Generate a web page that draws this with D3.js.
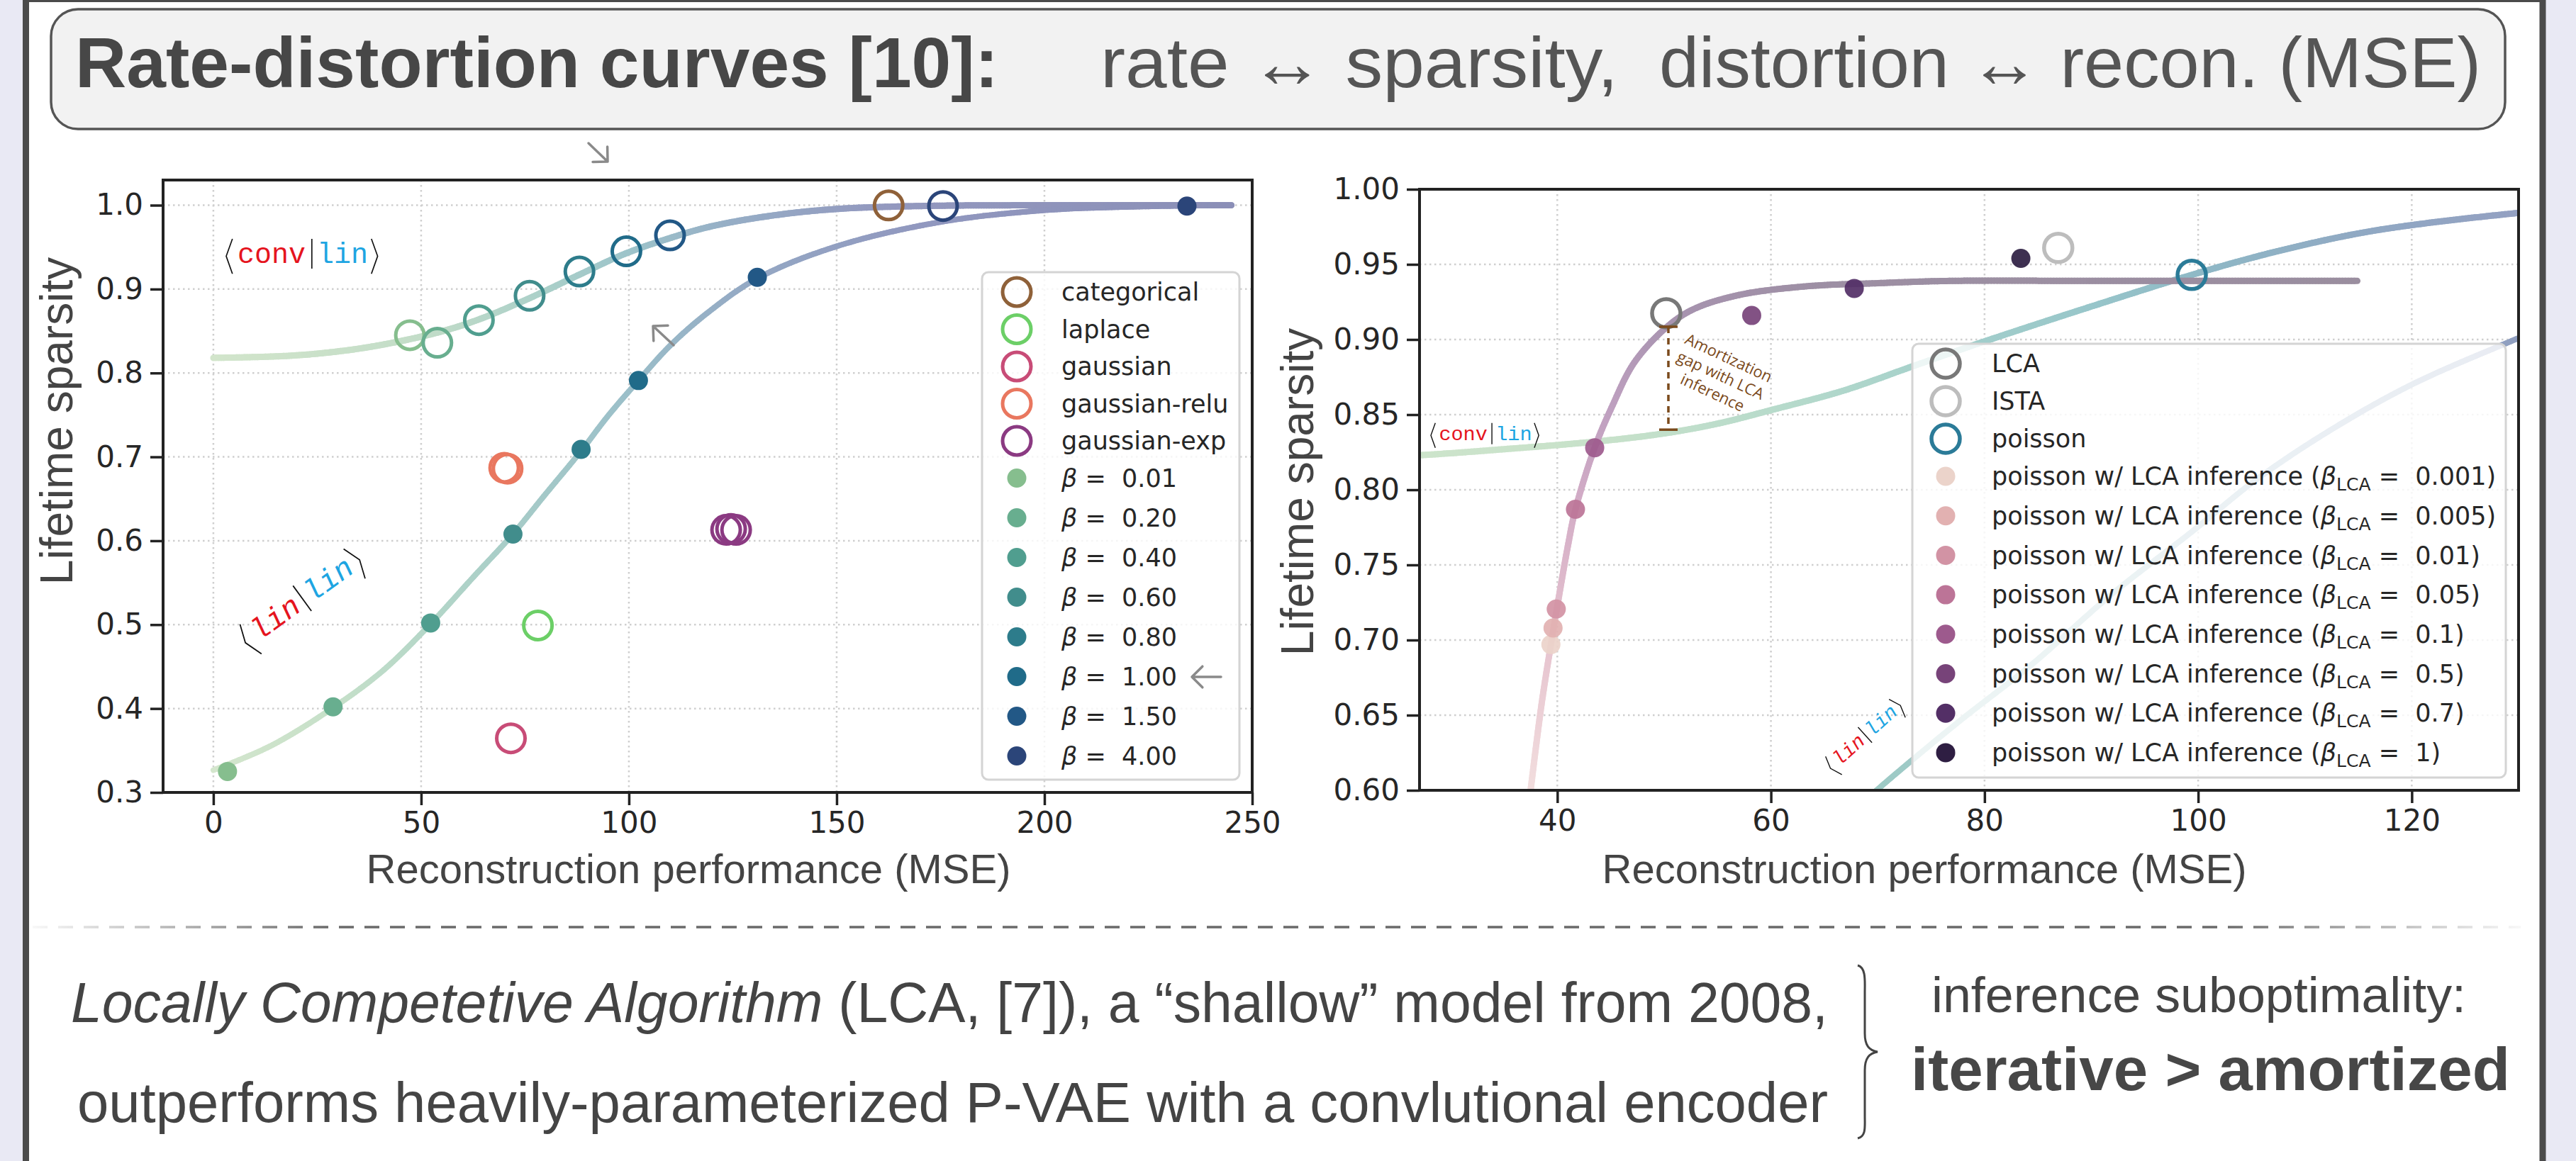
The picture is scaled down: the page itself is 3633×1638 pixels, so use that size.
<!DOCTYPE html>
<html>
<head>
<meta charset="utf-8">
<script src="https://cdn.jsdelivr.net/npm/d3@7"></script>
<style>
  body { margin: 0; background: #e9e9f4; }
  svg { display: block; }
</style>
</head>
<body>
<div id="chart"></div>
<script>
// ---------- data ----------
// left panel: P-VAE poisson, beta sweep
const betaLabels = ["0.01", "0.20", "0.40", "0.60", "0.80", "1.00", "1.50", "4.00"];
const betaColors = ["#86be8e", "#68ae8f", "#509e8f", "#418d8c", "#2d7c8b", "#206b89", "#225886", "#2b4579"];
const linLinMSE = [3.4, 28.8, 52.3, 72.1, 88.5, 102.3, 130.9, 234.3];
const linLinSparsity = [0.325, 0.402, 0.502, 0.608, 0.709, 0.791, 0.914, 0.999];
const convLinMSE = [47.3, 53.9, 63.9, 76.1, 88.1, 99.4, 109.9, 175.6];
const convLinSparsity = [0.845, 0.836, 0.863, 0.892, 0.921, 0.945, 0.964, 0.999];

// left panel: other latent distributions (open circles)
const distNames = ["categorical", "laplace", "gaussian", "gaussian-relu", "gaussian-exp"];
const distColors = ["#8f6139", "#6ccf67", "#c84c77", "#e9775f", "#8b3a82"];
const distMSE = [[162.5], [78.1], [71.6], [70.0, 70.8], [123.4, 124.6, 125.8]];
const distSparsity = [[0.9997], [0.499], [0.3645], [0.687, 0.686], [0.613, 0.614, 0.613]];

// left panel fitted curves
const convLinCurveL = [[0, 0.818], [20, 0.821], [35, 0.829], [47, 0.840], [56, 0.851], [64, 0.864], [76, 0.889],
  [88, 0.917], [99, 0.942], [110, 0.961], [120, 0.975], [135, 0.988], [150, 0.9955], [170, 0.999], [200, 1.0], [245, 1.0]];
const linLinCurveL = [[0, 0.3265], [14, 0.356], [28.8, 0.401], [41, 0.446], [52.3, 0.501], [62.8, 0.558], [72.1, 0.608],
  [80, 0.656], [88.5, 0.707], [95, 0.749], [102.3, 0.791], [110, 0.833], [119, 0.872], [131, 0.913], [150, 0.951],
  [175, 0.98], [200, 0.994], [220, 0.998], [245, 1.0]];

// right panel: reference models (open circles)
const refNames = ["LCA", "ISTA", "poisson"];
const refColors = ["#787878", "#bdbdbd", "#2b7b98"];
const refMSE = [50.2, 86.9, 99.4];
const refSparsity = [0.9175, 0.961, 0.943];

// right panel: poisson w/ LCA inference
const lcaBetaLabels = ["0.001", "0.005", "0.01", "0.05", "0.1", "0.5", "0.7", "1"];
const lcaColors = ["#ebd3ca", "#e2b1b1", "#d293a4", "#bc7497", "#9d5a8d", "#774379", "#532f66", "#2e1e42"];
const lcaMSE = [39.4, 39.6, 39.9, 41.7, 43.5, 58.2, 67.8, 83.4];
const lcaSparsity = [0.697, 0.708, 0.7206, 0.787, 0.828, 0.916, 0.934, 0.954];

// right panel curves
const lcaCurveR = [[37.5, 0.6], [38.5, 0.656], [39.4, 0.697], [40, 0.7226], [41, 0.763], [41.7, 0.787], [43.5, 0.828],
  [45.1, 0.855], [47.2, 0.8846], [50.2, 0.908], [52.7, 0.92], [57, 0.9296], [63.3, 0.9354], [70, 0.9375],
  [76.8, 0.939], [90, 0.939], [114.9, 0.939]];
const convLinCurveR = [[20, 0.821], [27.1, 0.823], [35, 0.827], [43.5, 0.832], [50, 0.8375], [55, 0.844], [60, 0.853],
  [66.8, 0.866], [73.2, 0.882], [79.9, 0.8985], [90, 0.922], [99.4, 0.943], [107, 0.958], [115, 0.9706],
  [122, 0.978], [131, 0.985]];
const linLinCurveR = [[69, 0.594], [69.9, 0.6], [73.2, 0.62], [78, 0.648], [84.3, 0.683], [92, 0.731], [99.4, 0.772],
  [105.3, 0.806], [112, 0.838], [120, 0.87], [130, 0.901], [133, 0.91]];

// amortization gap marker
const gapMSE = 50.4;
const gapRange = [0.840, 0.9085];

// ticks
const xTicksL = [0, 50, 100, 150, 200, 250];
const yTicksL = [0.3, 0.4, 0.5, 0.6, 0.7, 0.8, 0.9, 1.0];
const xTicksR = [40, 60, 80, 100, 120];
const yTicksR = [0.60, 0.65, 0.70, 0.75, 0.80, 0.85, 0.90, 0.95, 1.00];

// ---------- page ----------
const W = 3633, H = 1638;
const SANS = "'Liberation Sans', Arial, sans-serif";
const DJV = "'DejaVu Sans', sans-serif";
const MONO = "'Liberation Mono', 'Courier New', monospace";

const svg = d3.select("#chart").append("svg")
  .attr("width", W).attr("height", H)
  .style("font-family", DJV);

// slide frame
svg.append("rect")
  .attr("x", 36.5).attr("y", -1.5).attr("width", 3549.5).attr("height", H + 20)
  .attr("fill", "#fff").attr("stroke", "#4b4b4b").attr("stroke-width", 9);

// title box
svg.append("rect")
  .attr("x", 72).attr("y", 13).attr("width", 3461).attr("height", 169).attr("rx", 38)
  .attr("fill", "#f2f2f2").attr("stroke", "#555").attr("stroke-width", 3.5);

const titleParts = [
  {text: "Rate-distortion curves [10]:", x: 106, len: 1302, bold: true},
  {text: "rate \u2194 sparsity,", x: 1552, len: 730, bold: false},
  {text: "distortion \u2194 recon. (MSE)", x: 2340, len: 1159, bold: false}
];
svg.append("g").selectAll("text").data(titleParts).join("text")
  .attr("x", d => d.x).attr("y", 123)
  .attr("font-family", SANS).attr("font-size", 100)
  .attr("font-weight", d => d.bold ? "bold" : "normal")
  .attr("fill", d => d.bold ? "#474747" : "#555")
  .attr("textLength", d => d.len).attr("lengthAdjust", "spacingAndGlyphs")
  .text(d => d.text);

// ---------- scales ----------
const xL = d3.scaleLinear().domain([-12.1, 250]).range([230, 1766]);
const yL = d3.scaleLinear().domain([0.3, 1.03]).range([1118, 254]);
const xR = d3.scaleLinear().domain([27.1, 130]).range([2002, 3552]);
const yR = d3.scaleLinear().domain([0.6, 1.0]).range([1115, 267]);

function clipFor(id, xs, ys) {
  svg.append("clipPath").attr("id", id).append("rect")
    .attr("x", xs.range()[0]).attr("y", ys.range()[1])
    .attr("width", xs.range()[1] - xs.range()[0])
    .attr("height", ys.range()[0] - ys.range()[1]);
}
clipFor("clipL", xL, yL);
clipFor("clipR", xR, yR);

function grid(xs, ys, xt, yt) {
  const g = svg.append("g").attr("stroke", "#cfcfcf").attr("stroke-width", 2.5)
    .attr("stroke-dasharray", "2.5,4.5");
  const [x0, x1] = xs.range(), [y0, y1] = ys.range();
  g.selectAll(".gx").data(xt.filter(t => xs(t) > x0 + 3 && xs(t) < x1 - 3)).join("line")
    .attr("x1", d => xs(d)).attr("x2", d => xs(d)).attr("y1", y1).attr("y2", y0);
  g.selectAll(".gy").data(yt.filter(t => ys(t) < y0 - 3 && ys(t) > y1 + 3)).join("line")
    .attr("y1", d => ys(d)).attr("y2", d => ys(d)).attr("x1", x0).attr("x2", x1);
}
grid(xL, yL, xTicksL, yTicksL);
grid(xR, yR, xTicksR, yTicksR);

// thick curve whose colour changes along its length
function gradientCurve(clipId, pts, xs, ys, stops, width, byArc) {
  const g = svg.append("g").attr("clip-path", `url(#${clipId})`);
  const line = d3.line().x(d => xs(d[0])).y(d => ys(d[1])).curve(d3.curveCatmullRom.alpha(0.5));
  const tmp = g.append("path").attr("d", line(pts)).attr("fill", "none");
  const node = tmp.node(), len = node.getTotalLength(), n = 400;
  const samples = d3.range(n + 1).map(i => node.getPointAtLength(len * i / n));
  tmp.remove();
  const col = d3.scaleLinear().domain(stops.map(s => s[0])).range(stops.map(s => s[1])).clamp(true);
  g.selectAll("line").data(d3.pairs(samples)).join("line")
    .attr("x1", d => d[0].x).attr("y1", d => d[0].y)
    .attr("x2", d => d[1].x).attr("y2", d => d[1].y)
    .attr("stroke", (d, i) => col(byArc ? (i + 0.5) / n : xs.invert((d[0].x + d[1].x) / 2)))
    .attr("stroke-width", width).attr("stroke-linecap", "round");
}

// left curves
gradientCurve("clipL", convLinCurveL, xL, yL,
  [[0, "#d2e5cb"], [50, "#c3ddc8"], [80, "#abd0c9"], [100, "#9dc4ca"], [125, "#96aec6"], [160, "#9399bf"], [245, "#8c8fb7"]], 9, false);
gradientCurve("clipL", linLinCurveL, xL, yL,
  [[0, "#d4e6cd"], [30, "#c6e0c9"], [55, "#b2d5c8"], [75, "#a6cbc8"], [100, "#9bbfc9"], [130, "#94a8c4"], [170, "#9198bf"], [245, "#8b8fb7"]], 8, false);

// right curves
gradientCurve("clipR", linLinCurveR, xR, yR,
  [[69, "#9ecac5"], [85, "#a0c8c9"], [105, "#98b6c8"], [130, "#909fc0"]], 8, false);
gradientCurve("clipR", convLinCurveR, xR, yR,
  [[27, "#cde4cb"], [45, "#c7e1ca"], [60, "#b8dbcb"], [75, "#a6d1cb"], [90, "#98c6ca"], [100, "#8fb9c6"], [115, "#90a9c3"], [131, "#94a0c2"]], 9, false);
gradientCurve("clipR", lcaCurveR, xR, yR,
  [[0, "#f2dede"], [0.13, "#e6c3cf"], [0.25, "#d2acc6"], [0.33, "#bfa0c0"], [0.42, "#a894b0"], [0.55, "#9d8fa4"], [1, "#9a8e9f"]], 9, true);

// ---------- markers ----------
const RING = 20, RING_W = 5, DOT = 13.5;

// left: filled dots on lin|lin
svg.append("g").selectAll("circle").data(linLinMSE).join("circle")
  .attr("cx", d => xL(d)).attr("cy", (d, i) => yL(linLinSparsity[i]))
  .attr("r", DOT).attr("fill", (d, i) => betaColors[i]);

// left: open circles on conv|lin
svg.append("g").selectAll("circle").data(convLinMSE).join("circle")
  .attr("cx", d => xL(d)).attr("cy", (d, i) => yL(convLinSparsity[i]))
  .attr("r", RING).attr("fill", "none").attr("stroke-width", RING_W)
  .attr("stroke", (d, i) => betaColors[i]);

// left: other distributions
const distPts = distNames.flatMap((name, k) =>
  distMSE[k].map((m, j) => ({m, s: distSparsity[k][j], c: distColors[k]})));
svg.append("g").selectAll("circle").data(distPts).join("circle")
  .attr("cx", d => xL(d.m)).attr("cy", d => yL(d.s))
  .attr("r", RING).attr("fill", "none").attr("stroke-width", RING_W)
  .attr("stroke", d => d.c);

// right: LCA-inference dots
svg.append("g").selectAll("circle").data(lcaMSE).join("circle")
  .attr("cx", d => xR(d)).attr("cy", (d, i) => yR(lcaSparsity[i]))
  .attr("r", DOT).attr("fill", (d, i) => lcaColors[i]).attr("fill-opacity", 0.92);

// right: reference models
svg.append("g").selectAll("circle").data(refMSE).join("circle")
  .attr("cx", d => xR(d)).attr("cy", (d, i) => yR(refSparsity[i]))
  .attr("r", RING).attr("fill", "none").attr("stroke-width", 5.5)
  .attr("stroke", (d, i) => refColors[i]);

// ---------- axes ----------
function axes(xs, ys, xt, yt, yfmt) {
  const [x0, x1] = xs.range(), [y0, y1] = ys.range();
  const gx = svg.append("g").attr("transform", `translate(0,${y0})`)
    .call(d3.axisBottom(xs).tickValues(xt).tickSize(18).tickPadding(9).tickFormat(d3.format("d")));
  const gy = svg.append("g").attr("transform", `translate(${x0},0)`)
    .call(d3.axisLeft(ys).tickValues(yt).tickSize(18).tickPadding(10).tickFormat(d3.format(yfmt)));
  [gx, gy].forEach(g => {
    g.select(".domain").remove();
    g.selectAll(".tick line").attr("stroke", "#222").attr("stroke-width", 3.5);
    g.selectAll(".tick text").attr("font-family", DJV).attr("font-size", 42).attr("fill", "#262626");
  });
  svg.append("rect").attr("x", x0).attr("y", y1).attr("width", x1 - x0).attr("height", y0 - y1)
    .attr("fill", "none").attr("stroke", "#222").attr("stroke-width", 4);
}
axes(xL, yL, xTicksL, yTicksL, ".1f");
axes(xR, yR, xTicksR, yTicksR, ".2f");

// axis titles
const axisTitles = [
  {t: "Reconstruction performance (MSE)", x: 971, y: 1246, rot: 0},
  {t: "Reconstruction performance (MSE)", x: 2714, y: 1246, rot: 0},
  {t: "Lifetime sparsity", x: 102, y: 594, rot: -90},
  {t: "Lifetime sparsity", x: 1852, y: 694, rot: -90}
];
svg.append("g").selectAll("text").data(axisTitles).join("text")
  .attr("transform", d => `translate(${d.x},${d.y}) rotate(${d.rot})`)
  .attr("text-anchor", "middle").attr("font-family", SANS)
  .attr("font-size", d => d.rot ? 64 : 58).attr("fill", "#444")
  .text(d => d.t);

// ---------- legends ----------
function legendFrame(x, y, w, h) {
  svg.append("rect").attr("x", x).attr("y", y).attr("width", w).attr("height", h).attr("rx", 9)
    .attr("fill", "#fff").attr("fill-opacity", 0.8).attr("stroke", "#d4d4d4").attr("stroke-width", 3);
}

// left legend
legendFrame(1385, 384, 363, 716);
const legL = [];
{
  let y = 412;
  distNames.forEach((n, i) => { legL.push({open: true, c: distColors[i], label: n, y}); y += 52.5; });
  betaLabels.forEach((b, i) => { legL.push({open: false, c: betaColors[i], beta: b, y}); y += 56; });
}
const gl = svg.append("g");
gl.selectAll("circle").data(legL).join("circle")
  .attr("cx", 1434).attr("cy", d => d.y)
  .attr("r", d => d.open ? RING : DOT)
  .attr("fill", d => d.open ? "none" : d.c)
  .attr("stroke", d => d.open ? d.c : "none").attr("stroke-width", RING_W);
gl.selectAll("text").data(legL).join("text")
  .attr("x", 1497).attr("y", d => d.y).attr("dy", "0.35em")
  .attr("font-size", 35).attr("fill", "#262626").style("white-space", "pre")
  .each(function(d) {
    const t = d3.select(this);
    if (d.open) { t.text(d.label); return; }
    t.append("tspan").attr("font-style", "italic").text("\u03b2");
    t.append("tspan").text(" =  " + d.beta);
  });

// right legend
legendFrame(2697, 485, 837, 612);
const legR = [];
{
  let y = 513;
  refNames.forEach((n, i) => { legR.push({open: true, c: refColors[i], label: n, y}); y += 53; });
  lcaBetaLabels.forEach((b, i) => { legR.push({open: false, c: lcaColors[i], beta: b, y}); y += 55.7; });
}
const gr = svg.append("g");
gr.selectAll("circle").data(legR).join("circle")
  .attr("cx", 2744).attr("cy", d => d.y)
  .attr("r", d => d.open ? RING : DOT)
  .attr("fill", d => d.open ? "none" : d.c)
  .attr("stroke", d => d.open ? d.c : "none").attr("stroke-width", 5.5);
gr.selectAll("text").data(legR).join("text")
  .attr("x", 2809).attr("y", d => d.y).attr("dy", "0.35em")
  .attr("font-size", 35).attr("fill", "#262626").style("white-space", "pre")
  .each(function(d) {
    const t = d3.select(this);
    if (d.open) { t.text(d.label); return; }
    t.append("tspan").text("poisson w/ LCA inference (");
    t.append("tspan").attr("font-style", "italic").text("\u03b2");
    t.append("tspan").attr("font-size", 25).attr("dy", 8).text("LCA");
    t.append("tspan").attr("dy", -8).text(" =  " + d.beta + ")");
  });

// ---------- annotations ----------
function braket(x, y, angle, f, first, second, italic) {
  const a = svg.append("g").attr("transform", `translate(${x},${y}) rotate(${angle})`);
  const cw = 0.6 * f;
  const sw = Math.max(1.4, f / 24);
  a.append("path").attr("d", `M${0.22 * f},${-0.85 * f}L0,${-0.24 * f}L${0.22 * f},${0.38 * f}`)
    .attr("fill", "none").attr("stroke", "#111").attr("stroke-width", sw);
  let cx = 0.4 * f;
  a.append("text").attr("x", cx).attr("font-family", MONO).attr("font-size", f)
    .attr("font-style", italic ? "italic" : "normal").attr("fill", "#e5141e").text(first);
  cx += first.length * cw + 0.22 * f;
  a.append("path").attr("d", `M${cx},${-0.85 * f}L${cx},${0.2 * f}`)
    .attr("stroke", "#111").attr("stroke-width", sw);
  cx += 0.18 * f;
  a.append("text").attr("x", cx).attr("font-family", MONO).attr("font-size", f)
    .attr("font-style", italic ? "italic" : "normal").attr("fill", "#1ea5e2").text(second);
  cx += second.length * cw + 0.12 * f;
  a.append("path").attr("d", `M${cx},${-0.85 * f}L${cx + 0.22 * f},${-0.24 * f}L${cx},${0.38 * f}`)
    .attr("fill", "none").attr("stroke", "#111").attr("stroke-width", sw);
}
braket(319, 371, 0, 40, "conv", "lin", false);
braket(352, 915, -36, 42, "lin", "lin", true);
braket(2018, 621, 0, 28.5, "conv", "lin", false);
braket(2586, 1089, -42, 28, "lin", "lin", true);

// gray pointer arrows (tail -> head, head drawn as two short arms)
const arrows = [
  {x1: 830, y1: 202, x2: 857, y2: 228},
  {x1: 950, y1: 487, x2: 921, y2: 460},
  {x1: 1722, y1: 955, x2: 1681, y2: 955}
];
svg.append("g").selectAll("path").data(arrows).join("path")
  .attr("d", d => {
    const ang = Math.atan2(d.y2 - d.y1, d.x2 - d.x1), h = 21, s = Math.PI / 4;
    const a1 = [d.x2 - h * Math.cos(ang - s), d.y2 - h * Math.sin(ang - s)];
    const a2 = [d.x2 - h * Math.cos(ang + s), d.y2 - h * Math.sin(ang + s)];
    return `M${d.x1},${d.y1}L${d.x2},${d.y2}M${a1}L${d.x2},${d.y2}L${a2}`;
  })
  .attr("fill", "none").attr("stroke", "#8a8a8a").attr("stroke-width", 3.5)
  .attr("stroke-linecap", "round").attr("stroke-linejoin", "round");

// amortization gap
const gapG = svg.append("g").attr("stroke", "#7b4a1c").attr("stroke-width", 3.5);
gapG.append("line")
  .attr("x1", xR(gapMSE)).attr("x2", xR(gapMSE))
  .attr("y1", yR(gapRange[1])).attr("y2", yR(gapRange[0]))
  .attr("stroke-dasharray", "9,7");
gapG.selectAll(".cap").data(gapRange).join("line")
  .attr("x1", xR(gapMSE) - 13).attr("x2", xR(gapMSE) + 13)
  .attr("y1", d => yR(d)).attr("y2", d => yR(d));
const gapText = ["Amortization", "gap with LCA", "inference"];
svg.append("g").attr("transform", "translate(2426.6,529.5) rotate(25)")
  .selectAll("text").data(gapText).join("text")
  .attr("y", (d, i) => (i - 1) * 27).attr("dy", "0.35em")
  .attr("text-anchor", "middle").attr("font-family", "'Open Sans', sans-serif")
  .attr("font-size", 22).attr("fill", "#7b4a1c").text(d => d);

// ---------- bottom text ----------
const fade = svg.append("defs").append("linearGradient").attr("id", "fade")
  .attr("gradientUnits", "userSpaceOnUse").attr("x1", 46).attr("x2", 3555);
fade.selectAll("stop").data([[0, 0.05], [0.12, 1], [0.88, 1], [1, 0.05]]).join("stop")
  .attr("offset", d => d[0]).attr("stop-color", "#6a6a6a").attr("stop-opacity", d => d[1]);
svg.append("line").attr("x1", 46).attr("x2", 3555).attr("y1", 1308).attr("y2", 1308)
  .attr("stroke", "url(#fade)").attr("stroke-width", 3.5).attr("stroke-dasharray", "21,15");

const l1 = svg.append("text").attr("x", 100).attr("y", 1442)
  .attr("font-family", SANS).attr("font-size", 80).attr("fill", "#444")
  .attr("textLength", 2478).attr("lengthAdjust", "spacingAndGlyphs");
l1.append("tspan").attr("font-style", "italic").text("Locally Competetive Algorithm");
l1.append("tspan").text(" (LCA, [7]), a \u201cshallow\u201d model from 2008,");

svg.append("text").attr("x", 109).attr("y", 1583)
  .attr("font-family", SANS).attr("font-size", 80).attr("fill", "#444")
  .attr("textLength", 2469).attr("lengthAdjust", "spacingAndGlyphs")
  .text("outperforms heavily-parameterized P-VAE with a convlutional encoder");

// brace
svg.append("path")
  .attr("d", "M2620,1362 C2632,1365 2630,1385 2630,1400 L2630,1458 C2630,1475 2636,1482 2648,1484 C2636,1486 2630,1493 2630,1510 L2630,1575 C2630,1590 2632,1603 2620,1606")
  .attr("fill", "none").attr("stroke", "#444").attr("stroke-width", 3);

svg.append("text").attr("x", 2724).attr("y", 1428)
  .attr("font-family", SANS).attr("font-size", 70).attr("fill", "#444")
  .attr("textLength", 754).attr("lengthAdjust", "spacingAndGlyphs")
  .text("inference suboptimality:");
svg.append("text").attr("x", 2695).attr("y", 1538)
  .attr("font-family", SANS).attr("font-size", 86).attr("font-weight", "bold").attr("fill", "#474747")
  .attr("textLength", 845).attr("lengthAdjust", "spacingAndGlyphs")
  .text("iterative > amortized");
</script>
</body>
</html>
